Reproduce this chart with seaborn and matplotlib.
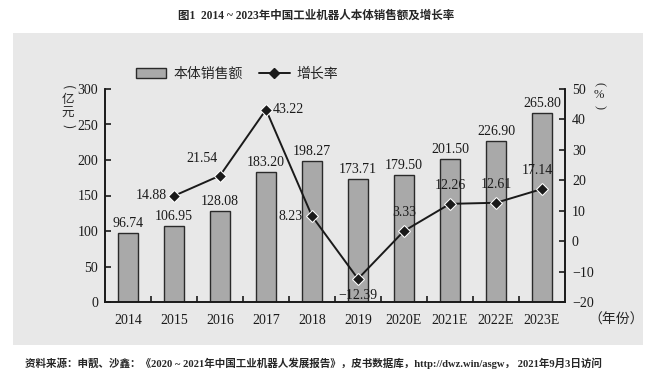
import numpy as np
import pandas as pd
import seaborn as sns
import matplotlib.pyplot as plt
from matplotlib.patches import Rectangle, Patch
from matplotlib.lines import Line2D
from matplotlib.ticker import MultipleLocator, FixedLocator

# 数据：中国工业机器人本体销售额及增长率
years = ['2014', '2015', '2016', '2017', '2018', '2019',
         '2020E', '2021E', '2022E', '2023E']
sales = [96.74, 106.95, 128.08, 183.20, 198.27, 173.71,
         179.50, 201.50, 226.90, 265.80]
growth = [np.nan, 14.88, 21.54, 43.22, 8.23, -12.39,
          3.33, 12.26, 12.61, 17.14]
sales_labels = ['96.74', '106.95', '128.08', '183.20', '198.27', '173.71',
                '179.50', '201.50', '226.90', '265.80']
growth_labels = ['', '14.88', '21.54', '43.22', '8.23', '\u221212.39',
                 '3.33', '12.26', '12.61', '17.14']

sns.set_style("ticks")
plt.rcParams['font.family'] = ['Liberation Serif', 'Noto Sans CJK SC', 'DejaVu Sans']
plt.rcParams['axes.unicode_minus'] = True

df = pd.DataFrame({'年份': years, '销售额': sales, '增长率': growth})
df['pos'] = range(len(df))

fig = plt.figure(figsize=(6.68, 3.82), dpi=100, facecolor='white')
W, H = 668, 382

# 灰色背景面板
fig.patches.append(Rectangle((13 / W, 1 - 345 / H), 630 / W, 312 / H,
                             transform=fig.transFigure, facecolor='#e8e8e8',
                             edgecolor='none', zorder=-5))

ax = fig.add_axes([105 / W, 1 - 302 / H, 460 / W, 213 / H])
ax.set_facecolor('none')

sns.barplot(data=df, x='年份', y='销售额', color='#a9a9a9', saturation=1,
            width=0.43, edgecolor='#2a2a2a', linewidth=1.0, ax=ax)
ax.set_ylim(0, 300)
ax.set_xlim(-0.5, 9.5)
ax.yaxis.set_major_locator(MultipleLocator(50))
ax.set_xlabel('')
ax.set_ylabel('')

for i, (v, lab) in enumerate(zip(sales, sales_labels)):
    ax.text(i, v + 4, lab, ha='center', va='bottom', fontsize=10, color='#1a1a1a')

ax2 = ax.twinx()
sns.lineplot(data=df, x='pos', y='增长率', color='#1a1a1a', marker='D',
             markersize=6, linewidth=1.4, ax=ax2)
ax2.set_ylim(-20, 50)
ax2.yaxis.set_major_locator(MultipleLocator(10))
ax2.set_ylabel('')
ax2.set_xlim(-0.5, 9.5)

offsets = {1: (-0.15, 0, 'right', 'center'),
           2: (-0.05, 3.5, 'right', 'bottom'),
           3: (0.15, 0, 'left', 'center'),
           4: (-0.2, 0, 'right', 'center'),
           5: (0, -3.2, 'center', 'top'),
           6: (0, 4.0, 'center', 'bottom'),
           7: (0, 4.0, 'center', 'bottom'),
           8: (0, 4.0, 'center', 'bottom'),
           9: (-0.1, 4.0, 'center', 'bottom')}
for i, (dx, dy, ha, va) in offsets.items():
    ax2.text(i + dx, growth[i] + dy, growth_labels[i], ha=ha, va=va,
             fontsize=10, color='#1a1a1a')

# 坐标轴样式
for a in (ax, ax2):
    a.spines['top'].set_visible(False)
    for s in ('left', 'right', 'bottom'):
        a.spines[s].set_color('#1a1a1a')
        a.spines[s].set_linewidth(1.2)
ax.tick_params(axis='y', direction='in', length=4, width=1.2, labelsize=10,
               colors='#1a1a1a', pad=5)
ax2.tick_params(axis='y', direction='in', length=4, width=1.2, labelsize=10,
                colors='#1a1a1a', pad=5)
ax.tick_params(axis='x', which='major', length=0, labelsize=10, pad=9,
               colors='#1a1a1a')
ax.xaxis.set_minor_locator(FixedLocator(np.arange(0.5, 9.5, 1)))
ax.tick_params(axis='x', which='minor', direction='in', length=4, width=1.2,
               colors='#1a1a1a')
ax2.tick_params(axis='x', which='both', length=0, labelbottom=False)
ax2.set_xlabel('')

# 单位标注（竖排，括号旋转）
cjk = ['Noto Sans CJK SC']
for ch, y, rot in zip(['(', '亿', '元', ')'], [87, 100, 113, 126], [-90, 0, 0, -90]):
    fig.text(68 / W, 1 - y / H, ch, ha='center', va='center', fontsize=9,
             rotation=rot, family=cjk)
for ch, y, rot in zip(['(', '%', ')'], [84, 95, 107], [-90, 0, -90]):
    fig.text(599 / W, 1 - y / H, ch, ha='center', va='center', fontsize=9,
             rotation=rot, family=['Liberation Serif'])
fig.text(616 / W, 1 - 320 / H, '（年份）', ha='center', va='center',
         fontsize=10, family=cjk)

# 图例
handles = [Patch(facecolor='#a9a9a9', edgecolor='#2a2a2a', linewidth=1.0),
           Line2D([0], [0], color='#1a1a1a', marker='D', markersize=5, linewidth=1.4)]
fig.legend(handles, ['本体销售额', '增长率'], loc='center',
           bbox_to_anchor=(237 / W, 1 - 74 / H), ncol=2, frameon=False,
           prop={'family': cjk, 'size': 10},
           handlelength=2.2, columnspacing=1.2, handletextpad=0.5)

fig.text(316 / W, 1 - 16 / H, '图1  2014 ~ 2023年中国工业机器人本体销售额及增长率',
         ha='center', va='center', fontsize=8.3, fontweight='bold')
fig.text(25 / W, 1 - 363 / H,
         '资料来源：申靓、沙鑫：《2020 ~ 2021年中国工业机器人发展报告》，皮书数据库，http://dwz.win/asgw， 2021年9月3日访问',
         ha='left', va='center', fontsize=7.6, fontweight='bold')

fig.savefig('out.png', dpi=100)
